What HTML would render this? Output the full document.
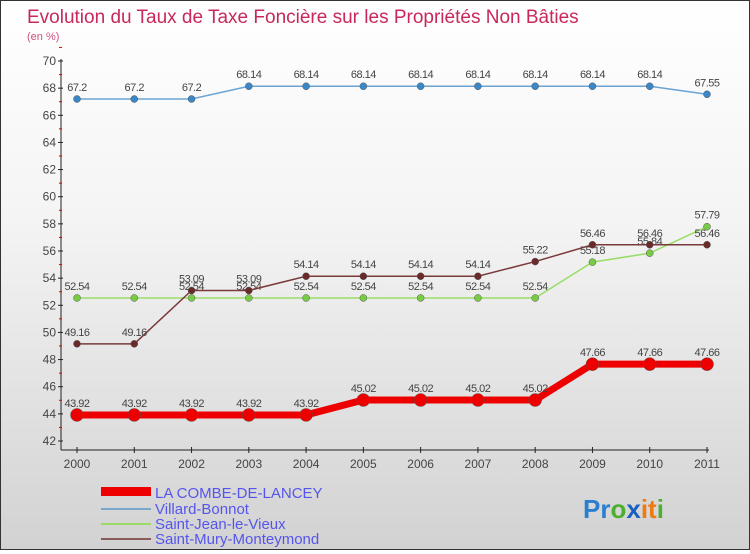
<!DOCTYPE html>
<html><head><meta charset="utf-8"><style>
body{margin:0}
#c{width:748px;height:548px;border:1px solid #333;background:linear-gradient(#fff,#f4f4f4 40%,#d2d2d2);position:relative;font-family:"Liberation Sans",sans-serif}
</style></head><body>
<div id="c">
<svg id="s" width="748" height="548" xmlns="http://www.w3.org/2000/svg">
<text x="26" y="22" font-size="19" fill="#c8285a">Evolution du Taux de Taxe Foncière sur les Propriétés Non Bâties</text>
<text x="26" y="39" font-size="11" fill="#d05080">(en %)</text>
<g id="axes"></g><g id="series"></g>
<g>
<rect x="100" y="486" width="50" height="9" fill="#e00"/>
<text x="154" y="497" font-size="15" fill="#5555ee">LA COMBE-DE-LANCEY</text>
<line x1="100" y1="508" x2="150" y2="508" stroke="#7aa8cc" stroke-width="2"/>
<text x="154" y="513" font-size="15" fill="#5555ee">Villard-Bonnot</text>
<line x1="100" y1="523" x2="150" y2="523" stroke="#99dd66" stroke-width="2"/>
<text x="154" y="528" font-size="15" fill="#5555ee">Saint-Jean-le-Vieux</text>
<line x1="100" y1="538" x2="150" y2="538" stroke="#8b5a5a" stroke-width="2"/>
<text x="154" y="543" font-size="15" fill="#5555ee">Saint-Mury-Monteymond</text>
</g>
<text x="582" y="517" font-size="26" font-weight="bold"><tspan fill="#2a7fd0">Pr</tspan><tspan fill="#4caf30">o</tspan><tspan fill="#1a60c0">x</tspan><tspan fill="#f07a10">it</tspan><tspan fill="#4caf30">i</tspan></text>
</svg></div>
<script>
const years=[2000,2001,2002,2003,2004,2005,2006,2007,2008,2009,2010,2011];
const yTicks=[42,44,46,48,50,52,54,56,58,60,62,64,66,68,70];
const combe=[43.92,43.92,43.92,43.92,43.92,45.02,45.02,45.02,45.02,47.66,47.66,47.66];
const villard=[67.2,67.2,67.2,68.14,68.14,68.14,68.14,68.14,68.14,68.14,68.14,67.55];
const stJean=[52.54,52.54,52.54,52.54,52.54,52.54,52.54,52.54,52.54,55.18,55.84,57.79];
const stMury=[49.16,49.16,53.09,53.09,54.14,54.14,54.14,54.14,55.22,56.46,56.46,56.46];
const NS="http://www.w3.org/2000/svg";
const X=i=>76+i*(706-76)/(years.length-1);
const Y=v=>60+(70-v)*(440-60)/(70-42);
function mk(t,a,p){const e=document.createElementNS(NS,t);for(const k in a)e.setAttribute(k,a[k]);p.appendChild(e);return e;}
const ax=document.getElementById('axes');
let e=mk('line',{x1:60,y1:58,x2:60,y2:449,stroke:'#222'},ax);


e=mk('line',{x1:60,y1:449,x2:708,y2:449,stroke:'#222'},ax);


yTicks.forEach(v=>{mk('line',{x1:57,y1:Y(v),x2:62,y2:Y(v),stroke:'#222'},ax);
mk('line',{x1:58,y1:Y(v+1),x2:61,y2:Y(v+1),stroke:'#d00'},ax);
const t=mk('text',{x:55,y:Y(v)+4,'font-size':12,'text-anchor':'end',fill:'#444'},ax);t.textContent=v;

});
years.forEach((y,i)=>{mk('line',{x1:X(i),y1:446,x2:X(i),y2:452,stroke:'#222'},ax);
const t=mk('text',{x:X(i),y:467,'font-size':12,'text-anchor':'middle',fill:'#444'},ax);t.textContent=y;

});
const sg=document.getElementById('series');
function series(d,name,col,w,r,dot){
 const g=mk('g',{},sg);
 
 
 mk('polyline',{points:d.map((v,i)=>X(i)+','+Y(v)).join(' '),fill:'none',stroke:col,'stroke-width':w},g);
 d.forEach((v,i)=>{const c=mk('circle',{cx:X(i),cy:Y(v),r:r,fill:dot,stroke:'#555','stroke-width':0.5},g);
 
 
 const t=mk('text',{x:X(i),y:Y(v)-8,'font-size':11,'text-anchor':'middle',fill:'#444','letter-spacing':'-0.5'},g);t.textContent=v;
 
 });
}
series(villard,'series-villard-bonnot','#6aa4d4',1.5,3.5,'#3a88c8');
series(stJean,'series-saint-jean-le-vieux','#99dd66',1.5,3.5,'#77cc44');
series(stMury,'series-saint-mury-monteymond','#7a3a3a',1.5,3.5,'#6a2a2a');
series(combe,'series-la-combe-de-lancey','#ee0000',7,6.5,'#ee0000');
</script>
</body></html>
